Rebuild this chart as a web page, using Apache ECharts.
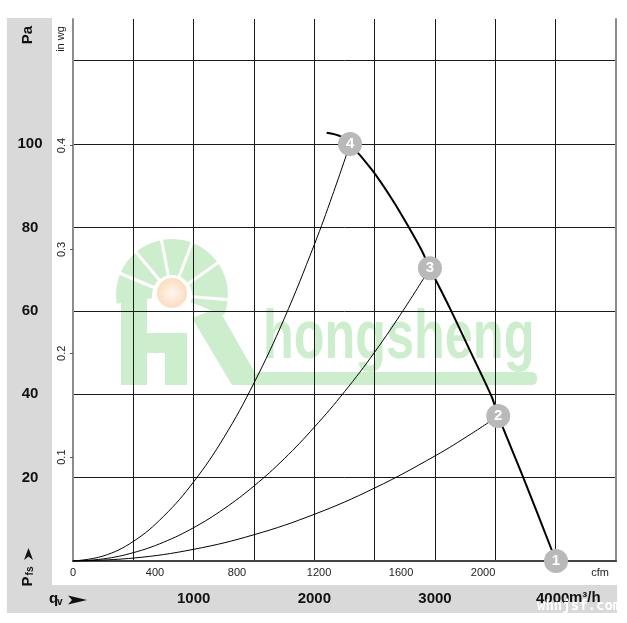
<!DOCTYPE html>
<html><head><meta charset="utf-8">
<script src="https://cdn.jsdelivr.net/npm/echarts@6/dist/echarts.min.js"></script>
<style>html,body{margin:0;padding:0;background:#fff}#c{width:627px;height:623px}</style>
</head><body><div id="c"></div>
<script>
// ---- data ----
const fanQ = [2102, 2213, 2296, 2478, 2648, 2784, 2888, 2958, 3124, 3296, 3470, 3524, 3732, 4003];
const fanP = [102.7, 101.9, 100.0, 93.8, 86.6, 80.0, 74.6, 70.2, 60.6, 50.1, 39.4, 34.8, 20.0, 0];

const sys4Q = [0, 250, 500, 750, 1000, 1250, 1500, 1750, 2000, 2150, 2296];
const sys4P = [0, 1.2, 4.7, 10.7, 19.0, 29.6, 42.7, 58.1, 75.9, 87.7, 100];

const sys3Q = [0, 250, 500, 750, 1000, 1250, 1500, 1750, 2000, 2250, 2500, 2750, 2958];
const sys3P = [0, 0.5, 2.0, 4.5, 8.0, 12.5, 18.0, 24.5, 32.1, 40.6, 50.1, 60.7, 70.2];

const sys2Q = [0, 500, 1000, 1500, 2000, 2500, 3000, 3300, 3524];
const sys2P = [0, 0.7, 2.8, 6.3, 11.2, 17.5, 25.2, 30.5, 34.8];

const opQ = [4003, 3524, 2958, 2296];
const opP = [0, 34.8, 70.2, 100];
const opLabels = ['1', '2', '3', '4'];

const paTicks = [20, 40, 60, 80, 100];
const inwgTicks = [0.1, 0.2, 0.3, 0.4];
const cfmTicks = [0, 400, 800, 1200, 1600, 2000];
const m3hTicks = [1000, 2000, 3000, 4000];

const PA_MAX = 130, Q_MAX = 4500;
const PA_PER_INWG = 249.0889, M3H_PER_CFM = 1.699011;

const FONT = "'Liberation Sans', Arial, sans-serif";
const pair = (qs, ps) => qs.map((q, i) => [q, ps[i]]);
const wm = '#cdeecd';

const chart = echarts.init(document.getElementById('c'), null, {renderer: 'canvas'});
chart.setOption({
  animation: false,
  backgroundColor: '#fff',
  textStyle: {fontFamily: FONT},
  grid: {left: 73, right: 11, top: 19, bottom: 62, containLabel: false},
  xAxis: [
    {
      type: 'value', min: 0, max: Q_MAX, interval: 500, position: 'bottom',
      axisLine: {show: true, onZero: false, lineStyle: {color: '#444', width: 2}},
      axisTick: {show: false},
      splitLine: {show: true, showMinLine: false, showMaxLine: false, lineStyle: {color: '#1a1a1a', width: 1}},
      axisLabel: {
        margin: 30, fontSize: 15, fontWeight: 'bold', color: '#111', fontFamily: FONT,
        formatter: v => {
          const r = Math.round(v);
          if (!m3hTicks.includes(r)) return '';
          return r === m3hTicks[m3hTicks.length - 1] ? '{last|' + r + '}' : String(r);
        },
        rich: {last: {fontSize: 15, fontWeight: 'bold', color: '#111', fontFamily: FONT, padding: [0, 6, 0, 0]}}
      }
    },
    {
      type: 'value', min: 0, max: Q_MAX / M3H_PER_CFM, interval: 400, position: 'bottom',
      axisLine: {show: false}, axisTick: {show: false}, splitLine: {show: false},
      axisLabel: {
        margin: 6, fontSize: 11, color: '#222', fontFamily: FONT,
        formatter: v => cfmTicks.includes(Math.round(v)) && Math.abs(v - Math.round(v)) < 1e-6 ? String(Math.round(v)) : ''
      }
    }
  ],
  yAxis: [
    {
      type: 'value', min: 0, max: PA_MAX, interval: 20, position: 'left',
      axisLine: {show: true, onZero: false, lineStyle: {color: '#8c8c8c', width: 2}},
      axisTick: {show: false},
      splitLine: {show: true, showMinLine: false, showMaxLine: false, lineStyle: {color: '#1a1a1a', width: 1}},
      axisLabel: {
        margin: 43, align: 'center', fontSize: 15, fontWeight: 'bold', color: '#111', fontFamily: FONT,
        formatter: v => paTicks.includes(Math.round(v)) && Math.abs(v - Math.round(v)) < 1e-6 ? String(Math.round(v)) : ''
      }
    },
    {
      type: 'value', min: 0, max: PA_MAX / PA_PER_INWG, interval: 0.1, position: 'left',
      axisLine: {show: false},
      axisTick: {show: true, length: 3, customValues: inwgTicks, lineStyle: {color: '#555'}},
      splitLine: {show: false},
      axisLabel: {
        rotate: 90, margin: 6, fontSize: 11, color: '#222', fontFamily: FONT,
        customValues: inwgTicks,
        formatter: v => (Math.round(v * 10) / 10).toFixed(1)
      }
    },
    {
      type: 'value', min: 0, max: PA_MAX, position: 'right',
      axisLine: {show: true, onZero: false, lineStyle: {color: '#8c8c8c', width: 2}},
      axisTick: {show: false}, axisLabel: {show: false}, splitLine: {show: false}
    }
  ],
  series: [
    {type: 'line', name: 'fan', data: pair(fanQ, fanP), smooth: 0.3, showSymbol: false,
     lineStyle: {color: '#000', width: 2}, z: 3},
    {type: 'line', name: 's4', data: pair(sys4Q, sys4P), smooth: 0.4, showSymbol: false,
     lineStyle: {color: '#000', width: 1}, z: 2},
    {type: 'line', name: 's3', data: pair(sys3Q, sys3P), smooth: 0.4, showSymbol: false,
     lineStyle: {color: '#000', width: 1}, z: 2},
    {type: 'line', name: 's2', data: pair(sys2Q, sys2P), smooth: 0.4, showSymbol: false,
     lineStyle: {color: '#000', width: 1}, z: 2},
    {type: 'scatter', name: 'op', data: pair(opQ, opP), symbol: 'circle', symbolSize: 24, z: 5,
     clip: false,
     itemStyle: {color: '#b9b9b9', opacity: 1},
     label: {show: true, position: 'inside', color: '#fff', fontWeight: 'bold', fontSize: 15, fontFamily: FONT,
             formatter: p => opLabels[p.dataIndex]}}
  ],
  graphic: [
    // gray bands
    {type: 'rect', z: -20, shape: {x: 7, y: 18, width: 45, height: 595}, style: {fill: '#d9d9d9'}},
    {type: 'rect', z: -20, shape: {x: 7, y: 585, width: 610, height: 28}, style: {fill: '#d9d9d9'}},
    // watermark logo
    {type: 'sector', z: -10, shape: {cx: 172, cy: 295, r0: 20, r: 56, startAngle: Math.PI * 0.95, endAngle: Math.PI * 2.12, clockwise: true}, style: {fill: wm}},
    {type: 'rect', z: -10, shape: {x: 121, y: 290, width: 26, height: 95}, style: {fill: wm}},
    {type: 'rect', z: -10, shape: {x: 147, y: 333, width: 40, height: 20}, style: {fill: wm}},
    {type: 'rect', z: -10, shape: {x: 165, y: 333, width: 22, height: 52}, style: {fill: wm}},
    {type: 'polygon', z: -10, shape: {points: [[192, 318], [218, 308], [262, 385], [232, 385]]}, style: {fill: wm}},
    {type: 'rect', z: -10, shape: {x: 255, y: 372, width: 282, height: 13, r: 5}, style: {fill: wm}},
    {type: 'line', z: -9, shape: {x1: 172, y1: 295, x2: 112, y2: 270}, style: {stroke: '#fff', lineWidth: 3}},
    {type: 'line', z: -9, shape: {x1: 172, y1: 295, x2: 130, y2: 245}, style: {stroke: '#fff', lineWidth: 3}},
    {type: 'line', z: -9, shape: {x1: 172, y1: 295, x2: 160, y2: 232}, style: {stroke: '#fff', lineWidth: 3}},
    {type: 'line', z: -9, shape: {x1: 172, y1: 295, x2: 195, y2: 235}, style: {stroke: '#fff', lineWidth: 3}},
    {type: 'line', z: -9, shape: {x1: 172, y1: 295, x2: 222, y2: 260}, style: {stroke: '#fff', lineWidth: 3}},
    {type: 'line', z: -9, shape: {x1: 172, y1: 295, x2: 232, y2: 300}, style: {stroke: '#fff', lineWidth: 3}},
    {type: 'circle', z: -8, shape: {cx: 172, cy: 293, r: 15},
     style: {fill: {type: 'radial', x: 0.5, y: 0.5, r: 0.5, colorStops: [{offset: 0, color: '#fff6ee'}, {offset: 1, color: '#fbdcc0'}]}}},
    {type: 'text', z: -10, x: 263, y: 339, scaleX: 0.73,
     style: {text: 'hongsheng', font: 'bold 69px ' + FONT, fill: wm, textAlign: 'left', textVerticalAlign: 'middle'}},
    // axis titles
    {type: 'text', z: 10, x: 28, y: 35, rotation: Math.PI / 2,
     style: {text: 'Pa', font: 'bold 15px ' + FONT, fill: '#111', textAlign: 'center', textVerticalAlign: 'middle'}},
    {type: 'text', z: 10, x: 61, y: 39, rotation: Math.PI / 2,
     style: {text: 'in wg', font: '11px ' + FONT, fill: '#222', textAlign: 'center', textVerticalAlign: 'middle'}},
    {type: 'text', z: 10, x: 27.5, y: 581.5, rotation: Math.PI / 2,
     style: {text: 'P', font: 'bold 15px ' + FONT, fill: '#111', textAlign: 'center', textVerticalAlign: 'middle'}},
    {type: 'text', z: 10, x: 30.5, y: 571, rotation: Math.PI / 2,
     style: {text: 'fs', font: 'bold 10px ' + FONT, fill: '#111', textAlign: 'center', textVerticalAlign: 'middle'}},
    {type: 'polygon', z: 10, shape: {points: [[28.5, 548], [33, 560], [28.5, 556.5], [24, 560]]}, style: {fill: '#111'}},
    {type: 'text', z: 10, x: 49, y: 599,
     style: {text: 'q', font: 'bold 15px ' + FONT, fill: '#111', textAlign: 'left', textVerticalAlign: 'middle'}},
    {type: 'text', z: 10, x: 57, y: 602,
     style: {text: 'v', font: 'bold 10px ' + FONT, fill: '#111', textAlign: 'left', textVerticalAlign: 'middle'}},
    {type: 'polygon', z: 10, shape: {points: [[68, 595.5], [87, 600], [68, 604.5], [72, 600]]}, style: {fill: '#111'}},
    {type: 'text', z: 10, x: 600, y: 573,
     style: {text: 'cfm', font: '11px ' + FONT, fill: '#222', textAlign: 'center', textVerticalAlign: 'middle'}},
    {type: 'text', z: 10, x: 569, y: 598,
     style: {text: 'm³/h', font: 'bold 15px ' + FONT, fill: '#111', textAlign: 'left', textVerticalAlign: 'middle'}},
    {type: 'text', z: 11, x: 537, y: 606,
     style: {text: 'whnjsf.com', font: 'bold 14px "DejaVu Sans Mono", monospace', fill: '#fff', textAlign: 'left', textVerticalAlign: 'middle'}}
  ]
});
</script>
</body></html>
